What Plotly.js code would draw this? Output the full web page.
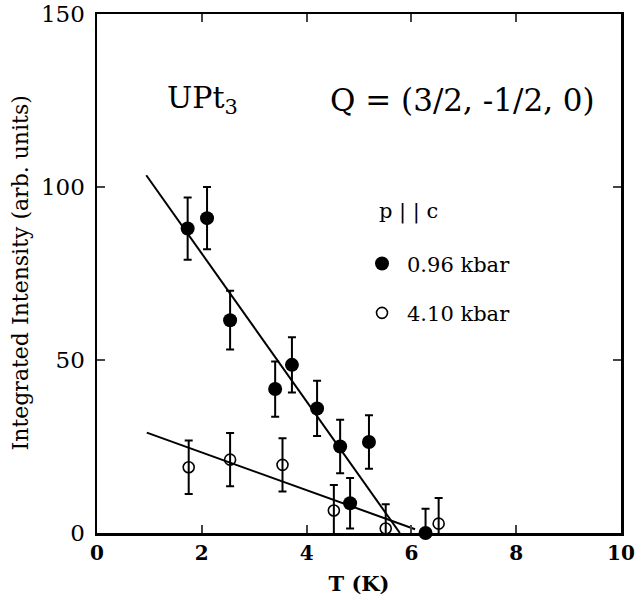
<!DOCTYPE html>
<html><head><meta charset="utf-8">
<script src="https://cdn.plot.ly/plotly-3.0.1.min.js"></script>
<style>html,body{margin:0;padding:0;background:#fff}#chart{width:636px;height:603px}</style>
</head><body><div id="chart"></div>
<script>
// 0.96 kbar (filled)
const tLow = [1.73, 2.10, 2.54, 3.40, 3.72, 4.20, 4.64, 4.83, 5.19, 6.27];
const iLow = [88, 91, 61.5, 41.6, 48.6, 36, 25, 8.6, 26.3, 0];
const eLow = [9, 9, 8.5, 8, 8, 8, 7.7, 7.3, 7.7, 7];
// 4.10 kbar (open)
const tHigh = [1.75, 2.54, 3.54, 4.52, 5.51, 6.52];
const iHigh = [19, 21.2, 19.7, 6.5, 1.3, 2.7];
const eHigh = [7.7, 7.7, 7.7, 7.4, 7, 7.4];
// fit lines
const fitLowT = [0.94, 5.78];
const fitLowI = [103.4, 0];
const fitHighT = [0.95, 6.07];
const fitHighI = [29, 1.1];
// texts
const seriesNames = ['0.96 kbar', '4.10 kbar'];
const legendHead = 'p | | c';
const yTitle = 'Integrated Intensity (arb. units)';
const xTitle = 'T (K)';

const FONT = "DejaVu Serif";
const traces = [
  {x: fitLowT, y: fitLowI, mode: 'lines', line: {color: '#000', width: 2}, showlegend: false, hoverinfo: 'skip'},
  {x: fitHighT, y: fitHighI, mode: 'lines', line: {color: '#000', width: 2}, showlegend: false, hoverinfo: 'skip'},
  {x: tLow, y: iLow, mode: 'markers', name: seriesNames[0], legendgroup: 'a', cliponaxis: false,
   marker: {symbol: 'circle', size: 14, color: '#000'},
   error_y: {type: 'data', array: eLow, visible: true, color: '#000', thickness: 2, width: 4}},
  {x: tHigh, y: iHigh, mode: 'markers', name: seriesNames[1], legendgroup: 'b', cliponaxis: false,
   marker: {symbol: 'circle-open', size: 11, color: '#000', line: {width: 1.6}},
   error_y: {type: 'data', array: eHigh, visible: true, color: '#000', thickness: 2, width: 4}}
];

const layout = {
  width: 636, height: 603,
  margin: {l: 97, r: 15, t: 14, b: 70},
  paper_bgcolor: '#fff', plot_bgcolor: '#fff',
  font: {family: FONT, color: '#000', size: 20},
  showlegend: true,
  legend: {x: 0.4962, y: 0.558, xanchor: 'left', yanchor: 'top', bgcolor: 'rgba(0,0,0,0)',
    font: {family: FONT, size: 21}, tracegroupgap: 19, itemwidth: 40},
  xaxis: {range: [0, 10], dtick: 2, tick0: 0, ticks: 'inside', ticklen: 8, tickwidth: 2,
    showline: true, linewidth: 2.5, linecolor: '#000', mirror: 'ticks', showgrid: false, zeroline: false,
    ticklabeloverflow: 'allow',
    tickfont: {family: FONT, size: 20, weight: 'bold'},
    title: {text: '<b>' + xTitle + '</b>', font: {family: FONT, size: 21}, standoff: 13}},
  yaxis: {range: [0, 150], dtick: 50, tick0: 0, ticks: 'inside', ticklen: 8, tickwidth: 2,
    showline: true, linewidth: 2.5, linecolor: '#000', mirror: 'ticks', showgrid: false, zeroline: false,
    ticklabelstandoff: 5,
    tickfont: {family: FONT, size: 23}},
  annotations: [
    {xref: 'paper', yref: 'paper', x: -0.147, y: 0.502, xanchor: 'center', yanchor: 'middle', showarrow: false,
     textangle: -90, text: yTitle, font: {family: FONT, size: 22}},
    {xref: 'paper', yref: 'paper', x: 0.129, y: 0.835, xanchor: 'left', yanchor: 'middle', showarrow: false,
     text: 'UPt<sub>3</sub>', font: {family: FONT, size: 30}},
    {xref: 'paper', yref: 'paper', x: 0.44, y: 0.835, xanchor: 'left', yanchor: 'middle', showarrow: false,
     text: 'Q = (3/2, -1/2, 0)', font: {family: FONT, size: 31}},
    {xref: 'paper', yref: 'paper', x: 0.534, y: 0.62, xanchor: 'left', yanchor: 'middle', showarrow: false,
     text: legendHead, font: {family: FONT, size: 21}}
  ]
};
Plotly.newPlot('chart', traces, layout, {displayModeBar: false, staticPlot: true});
</script></body></html>
